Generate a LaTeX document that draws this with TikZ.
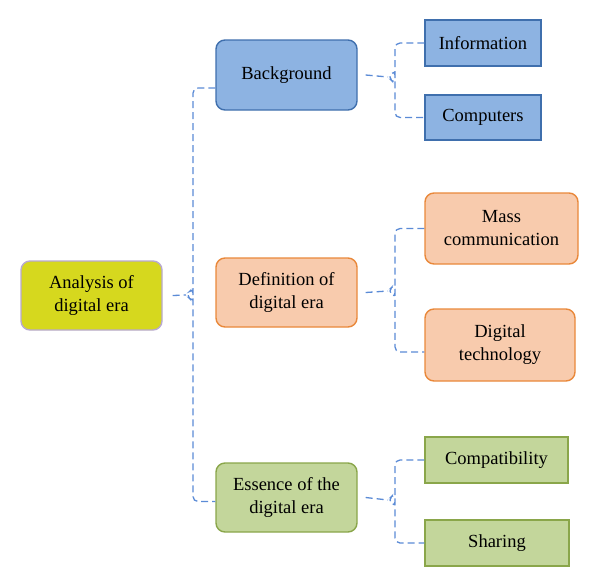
\documentclass[tikz,border=0pt]{standalone}
\usepackage{fontspec}
\setmainfont{Liberation Serif}
\usetikzlibrary{positioning,calc}
\usepackage{xcolor}

\definecolor{bluefill}{HTML}{8DB3E2}
\definecolor{blueline}{HTML}{3F6FAD}
\definecolor{orgfill}{HTML}{F8CBAD}
\definecolor{orgline}{HTML}{E9883A}
\definecolor{grnfill}{HTML}{C3D69B}
\definecolor{grnline}{HTML}{8AA64A}
\definecolor{yelfill}{HTML}{D6D81E}
\definecolor{yelline}{HTML}{B8A9D0}
\definecolor{linkcol}{HTML}{5B8BD6}

\begin{document}
\begin{tikzpicture}[
    x=1pt, y=-1pt,
    box/.style={draw, line width=1.4pt, align=center, inner sep=2pt,
                font=\fontsize{18.5}{23}\selectfont},
    rbox/.style={box, rounded corners=9pt},
    rootbox/.style={rbox, fill=yelfill, draw=yelline, minimum width=141pt, minimum height=69pt},
    bluebox/.style={fill=bluefill, draw=blueline},
    orgbox/.style={fill=orgfill, draw=orgline},
    grnbox/.style={fill=grnfill, draw=grnline},
    link/.style={draw=linkcol, line width=1.3pt, dash pattern=on 7pt off 4pt, rounded corners=5pt},
  ]
  \useasboundingbox (0,0) rectangle (600,587);

  % first level
  \node[rootbox] (root) at (91.5,295.5) {Analysis of\\digital era};
  \node[rbox, bluebox, minimum width=141pt, minimum height=70pt] (bg) at (286.5,75) {Background};
  \node[rbox, orgbox, minimum width=141pt, minimum height=69pt] (def) at (286.5,292.5) {Definition of\\digital era};
  \node[rbox, grnbox, minimum width=141pt, minimum height=69pt] (ess) at (286.5,497.5) {Essence of the\\digital era};

  % leaves
  \node[box, bluebox, minimum width=116pt, minimum height=46pt] (info) at (483,43) {Information};
  \node[box, bluebox, minimum width=116pt, minimum height=45pt] (comp) at (483,117.5) {Computers};
  \node[rbox, orgbox, minimum width=153pt, minimum height=71pt] (mass) at (501.5,228.5) {Mass\\communication};
  \node[rbox, orgbox, minimum width=150pt, minimum height=72pt] (digi) at (500,345) {Digital\\technology};
  \node[box, grnbox, minimum width=143pt, minimum height=46pt] (compat) at (496.5,460) {Compatibility};
  \node[box, grnbox, minimum width=144pt, minimum height=46pt] (share) at (497,543) {Sharing};

  % brace points
  \coordinate (roottip) at (186,295);
  \coordinate (rootv) at (193,295);
  \coordinate (bgtip) at (388,77);
  \coordinate (bgv) at (395,77);
  \coordinate (deftip) at (388,291);
  \coordinate (defv) at (395,291);
  \coordinate (esstip) at (388,500);
  \coordinate (essv) at (395,500);

  % root branches
  \draw[link] ([xshift=10pt]root.east) -- (roottip);
  \draw[link] ([yshift=-13pt]bg.west) -- ([yshift=-13pt]bg.west -| rootv) -- ([yshift=-7pt]rootv)
    -- (roottip) -- ([yshift=7pt]rootv) -- ([yshift=-4pt]ess.west -| rootv) -- ([yshift=-4pt]ess.west);

  % background branches
  \draw[link] ([xshift=8pt]bg.east) -- (bgtip);
  \draw[link] (info.west) -- (info.west -| bgv) -- ([yshift=-7pt]bgv) -- (bgtip)
    -- ([yshift=7pt]bgv) -- (comp.west -| bgv) -- (comp.west);

  % definition branches
  \draw[link] ([xshift=8pt]def.east) -- (deftip);
  \draw[link] (mass.west) -- (mass.west -| defv) -- ([yshift=-7pt]defv) -- (deftip)
    -- ([yshift=7pt]defv) -- ([yshift=-7pt]digi.west -| defv) -- ([yshift=-7pt]digi.west);

  % essence branches
  \draw[link] ([xshift=8pt]ess.east) -- (esstip);
  \draw[link] (compat.west) -- (compat.west -| essv) -- ([yshift=-7pt]essv) -- (esstip)
    -- ([yshift=7pt]essv) -- (share.west -| essv) -- (share.west);

\end{tikzpicture}
\end{document}
